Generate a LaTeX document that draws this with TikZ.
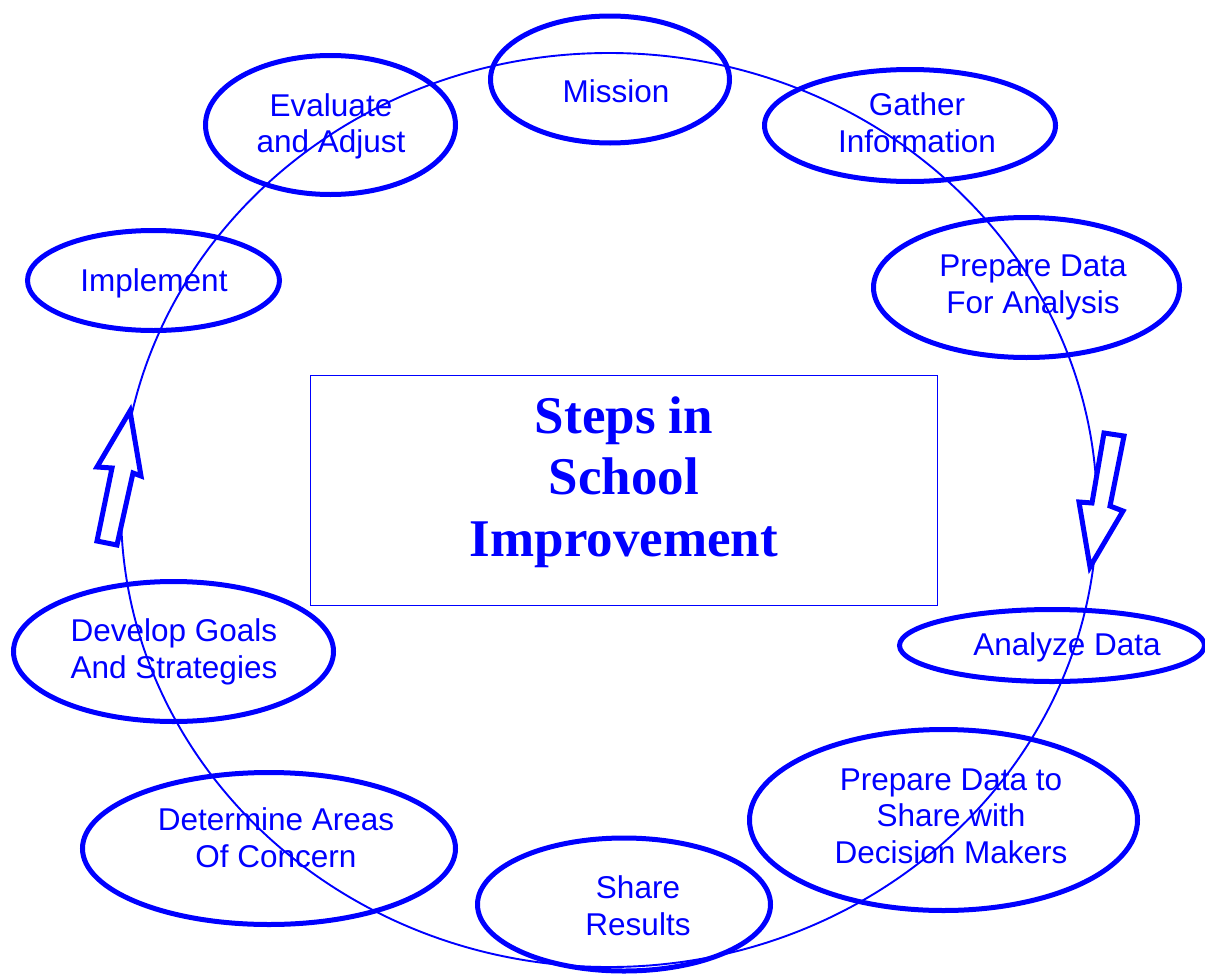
\documentclass[tikz,border=0pt]{standalone}
\usepackage{fontspec}
\setmainfont{Liberation Sans}
\newfontfamily\titlefont{Liberation Serif}
\usetikzlibrary{shapes.geometric}

\begin{document}
\begin{tikzpicture}[x=1pt, y=-1pt,
	stepellipse/.style={draw=blue, line width=5pt, ellipse, inner sep=0pt},
	steptext/.style={text=blue, align=center, inner sep=0pt, font=\fontsize{31.5}{36.5}\selectfont},
	blockarrow/.style={draw=blue, line width=5pt, fill=white, line join=miter}
]
\useasboundingbox (0,0) rectangle (1205,977);

%% CYCLE
% Main loop
\draw [blue, line width=1.9pt] (609,510) ellipse [x radius=488pt, y radius=457pt];

% Direction arrows
\draw [blockarrow] (130,411) -- (141,476) -- (133,473) -- (117,545) -- (97,541) -- (112,468) -- (97,467) -- cycle;
\draw [blockarrow] (1104,433) -- (1124,436) -- (1110,506) -- (1123,511) -- (1090,567) -- (1079,502) -- (1092,503) -- cycle;

%% TITLE
\draw [blue, line width=0.8pt] (310,375) rectangle (937,605);
\node [text=blue, align=center, inner sep=0pt, font=\titlefont\bfseries\fontsize{53}{61.5}\selectfont] (title) at (624,482) {Steps in\\School\\Improvement};

%% STEPS
% Top
\node [stepellipse, minimum width=239pt, minimum height=127pt] (mission) at (610,79.5) {};
\node [steptext] (missiontext) at (616,91) {Mission};

\node [stepellipse, minimum width=291pt, minimum height=112pt] (gather) at (910,125.5) {};
\node [steptext] (gathertext) at (917,122.5) {Gather\\Information};

\node [stepellipse, minimum width=306pt, minimum height=140pt] (prepare) at (1026.5,287.5) {};
\node [steptext] (preparetext) at (1033,287.5) {Prepare Data\\For Analysis};

% Right
\node [stepellipse, minimum width=305pt, minimum height=72pt] (analyze) at (1052,645.5) {};
\node [steptext] (analyzetext) at (1067,647) {Analyze Data};

\node [stepellipse, minimum width=388pt, minimum height=181pt] (decision) at (943.5,820) {};
\node [steptext] (decisiontext) at (951,816) {Prepare Data to\\Share with\\Decision Makers};

% Bottom
\node [stepellipse, minimum width=293pt, minimum height=133pt] (share) at (624,904.5) {};
\node [steptext] (sharetext) at (638,905.5) {Share\\Results};

\node [stepellipse, minimum width=373pt, minimum height=152pt] (determine) at (269,848.5) {};
\node [steptext] (determinetext) at (276,837.5) {Determine Areas\\Of Concern};

% Left
\node [stepellipse, minimum width=320pt, minimum height=140pt] (develop) at (173.5,651.5) {};
\node [steptext] (developtext) at (174,652) {Develop Goals\\And Strategies};

\node [stepellipse, minimum width=252pt, minimum height=100pt] (implement) at (153.5,280.5) {};
\node [steptext] (implementtext) at (154,283) {Implement};

\node [stepellipse, minimum width=250pt, minimum height=139pt] (evaluate) at (330.5,125) {};
\node [steptext] (evaluatetext) at (331,126.5) {Evaluate\\and Adjust};
\end{tikzpicture}
\end{document}
